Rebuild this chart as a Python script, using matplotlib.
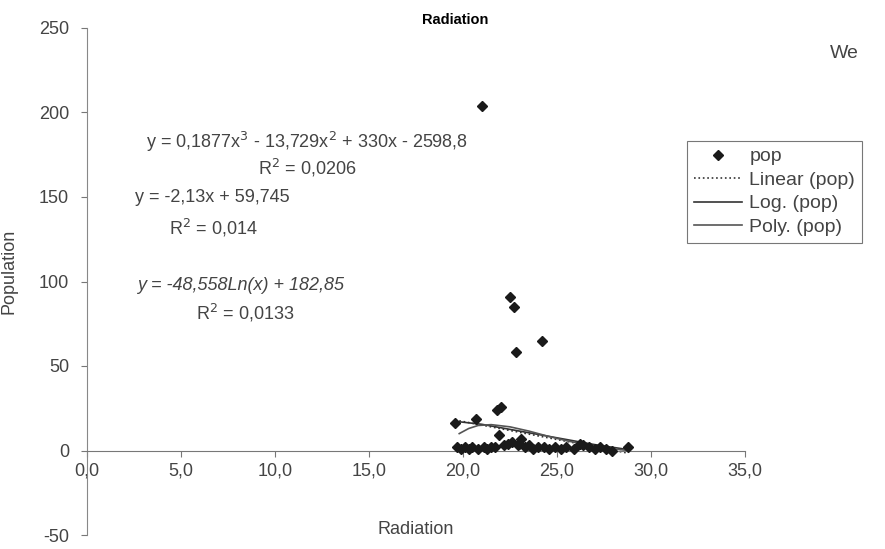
import matplotlib.pyplot as plt

plt.rcParams['font.family'] = ['Liberation Sans', 'DejaVu Sans']
plt.rcParams['axes.unicode_minus'] = False

# observed points (radiation, pop)
radiation = [21.0, 22.5, 22.7, 24.2, 22.8, 21.8, 22.0, 19.6, 20.7, 21.9, 23.1, 26.2, 28.8,
             19.7, 19.9, 20.1, 20.3, 20.5, 20.8, 21.1, 21.3, 21.5, 21.7, 22.2, 22.4,
             22.6, 22.9, 23.0, 23.3, 23.5, 23.7, 24.0, 24.3, 24.6, 24.9, 25.2, 25.5,
             25.9, 26.4, 26.7, 27.0, 27.3, 27.6, 27.9]
pop = [204, 91, 85, 65, 58, 24, 26, 16, 18.5, 9, 7, 4, 2,
       2, 1, 2, 1, 2, 1, 2, 1, 2, 2, 3, 4,
       5, 3, 4, 2, 3, 1, 2, 2, 1, 2, 1, 2,
       1, 3, 2, 1, 2, 1, 0]

# trend lines
linear_x = [19.8, 28.8]
linear_y = [17.6, -1.6]
log_x = [19.8, 21.0, 22.5, 24.0, 25.5, 27.0, 28.8]
log_y = [17.0, 15.5, 12.5, 9.5, 6.5, 3.5, 0.5]
poly_x = [19.8, 20.3, 20.8, 21.5, 22.5, 23.5, 24.5, 25.5, 26.5, 27.5, 28.8]
poly_y = [10.0, 13.0, 14.8, 15.3, 14.0, 11.5, 8.5, 5.8, 3.5, 1.5, 0.0]

xticks = [0, 5, 10, 15, 20, 25, 30, 35]
xticklabels = ['0,0', '5,0', '10,0', '15,0', '20,0', '25,0', '30,0', '35,0']
yticks = [-50, 0, 50, 100, 150, 200, 250]

W, H = 885, 549
fig = plt.figure(figsize=(W / 100, H / 100), dpi=100)
ax = fig.add_axes([87 / W, 1 - 535 / H, (745 - 87) / W, (535 - 28) / H])

ax.plot(radiation, pop, 'D', color='#1a1a1a', markersize=5.5, label='pop', zorder=3)
ax.plot(linear_x, linear_y, ':', color='#333333', lw=1.2, label='Linear (pop)')
ax.plot(log_x, log_y, '-', color='#333333', lw=1.2, label='Log. (pop)')
ax.plot(poly_x, poly_y, '-', color='#555555', lw=1.2, label='Poly. (pop)')

ax.set_xlim(0, 35)
ax.set_ylim(-50, 250)
ax.set_xticks(xticks)
ax.set_xticklabels(xticklabels)
ax.set_yticks(yticks)

for s in ['top', 'right']:
    ax.spines[s].set_visible(False)
ax.spines['bottom'].set_position(('data', 0))
ax.spines['bottom'].set_color('#777777')
ax.spines['left'].set_color('#888888')
ax.tick_params(axis='both', colors='#777777', labelcolor='#444444', labelsize=13, length=4)
ax.tick_params(axis='x', pad=5)
ax.tick_params(axis='y', pad=9)

ax.set_ylabel('Population', fontsize=13, color='#444444')
ax.yaxis.set_label_coords(-0.105, 0.52)
fig.text(416 / W, 1 - 530 / H, 'Radiation', fontsize=13, color='#444444', ha='center', va='center')

fig.text(455 / W, 1 - 20 / H, 'Radiation', fontsize=10.5, fontweight='bold', ha='center', va='center')
fig.text(830 / W, 1 - 54 / H, 'We', fontsize=14, color='#444444', ha='left', va='center')

eq_kw = dict(fontsize=13, color='#444444', ha='center', va='center')
fig.text(307 / W, 1 - 142 / H, 'y = 0,1877x$^3$ - 13,729x$^2$ + 330x - 2598,8', **eq_kw)
fig.text(307 / W, 1 - 168 / H, 'R$^2$ = 0,0206', **eq_kw)
fig.text(212 / W, 1 - 198 / H, 'y = -2,13x + 59,745', **eq_kw)
fig.text(213 / W, 1 - 228 / H, 'R$^2$ = 0,014', **eq_kw)
fig.text(241 / W, 1 - 285 / H, 'y = -48,558Ln(x) + 182,85', style='italic', **eq_kw)
fig.text(245 / W, 1 - 313 / H, 'R$^2$ = 0,0133', **eq_kw)

leg = fig.legend(loc='upper left', bbox_to_anchor=(687 / W, 1 - 141 / H), fontsize=14,
                 frameon=True, fancybox=False, edgecolor='#555555', handlelength=2.5,
                 handletextpad=0.35, borderpad=0.35, labelspacing=0.3, borderaxespad=0)
leg.get_frame().set_linewidth(0.8)
for t in leg.get_texts():
    t.set_color('#444444')

fig.savefig('out.png', dpi=100)
